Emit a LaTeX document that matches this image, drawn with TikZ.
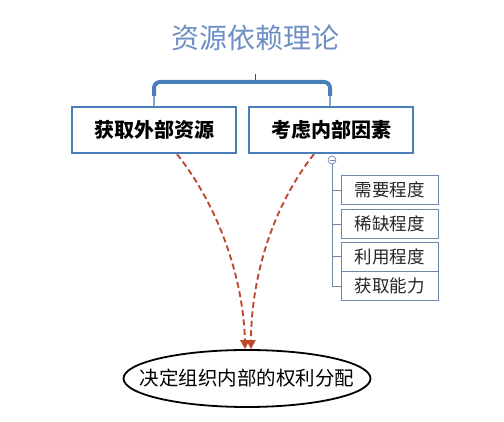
\documentclass[tikz,border=0pt]{standalone}
\usepackage{fontspec}
\setmainfont{Noto Sans CJK SC}
\usetikzlibrary{arrows.meta,shapes.geometric}
\definecolor{titleblue}{HTML}{6E8FC2}
\definecolor{boxblue}{HTML}{4A7EBB}
\definecolor{subblue}{HTML}{6C87A8}
\definecolor{arrowred}{HTML}{BE4B2F}
\tikzset{
  mainbox/.style={draw=boxblue,line width=2.2pt,minimum width=164pt,minimum height=46pt,inner sep=0pt,font=\fontsize{20}{22}\selectfont\bfseries},
  subbox/.style={draw=subblue,line width=0.9pt,minimum width=97pt,minimum height=29pt,inner sep=0pt,font=\fontsize{17.5}{19}\selectfont,text=black!85},
  treeline/.style={draw=subblue,line width=0.9pt},
  flow/.style={draw=arrowred,line width=1.9pt,dash pattern=on 6pt off 3.5pt,-{Triangle[length=9pt,width=9pt]}},
}
\begin{document}
\begin{tikzpicture}[x=1pt,y=-1pt]
\useasboundingbox (0,0) rectangle (504,422);
\node[text=titleblue,font=\fontsize{28}{30}\selectfont] (title) at (255,38) {资源依赖理论};
% bracket
\coordinate (stemtop) at (255,74);
\coordinate (stembot) at (255,82);
\draw[black!70,line width=0.8pt] (stemtop) -- (stembot);
\node[mainbox] (b1) at (154,130) {获取外部资源};
\node[mainbox] (b2) at (331,130) {考虑内部因素};
\coordinate (bl) at (154,82);
\coordinate (br) at (330,82);
\draw[boxblue!70,line width=2pt] (bl) ++(0,6) -- (154,106.5);
\draw[boxblue!70,line width=2pt] (br) ++(0,6) -- (330,106.5);
\draw[boxblue,line width=4pt,rounded corners=6pt] (154,96) -- (bl) -- (br) -- (330,96);
% collapse circle
\node[circle,draw=subblue,fill=white,line width=0.7pt,minimum size=8pt,inner sep=0pt] (minus) at (332,160) {};
\draw[subblue,line width=0.7pt] (329.5,160) -- (334.5,160);
% sub boxes
\node[subbox] (s1) at (389.5,190) {需要程度};
\node[subbox] (s2) at (389.5,224) {稀缺程度};
\node[subbox] (s3) at (389.5,256.5) {利用程度};
\node[subbox] (s4) at (389.5,286) {获取能力};
\coordinate (treebot) at (332,286);
\draw[treeline] (minus.south) -- (treebot);
\foreach \s in {s1,s2,s3,s4} \draw[treeline] (\s.west -| minus) -- (\s.west);
% ellipse
\node[ellipse,draw=black,line width=1.8pt,minimum width=247pt,minimum height=57pt,inner sep=0pt] (ell) at (247,378.5) {};
\node[font=\fontsize{19.5}{21}\selectfont,inner sep=0pt] (elltext) at (ell.center) {决定组织内部的权利分配};
% arrows
\draw[flow] ([xshift=23pt]b1.south) .. controls (225,215) and (244,290) .. ([xshift=-2pt]ell.north);
\draw[flow] ([xshift=-17pt]b2.south) .. controls (266,215) and (251,290) .. ([xshift=4pt]ell.north);
\end{tikzpicture}
\end{document}
